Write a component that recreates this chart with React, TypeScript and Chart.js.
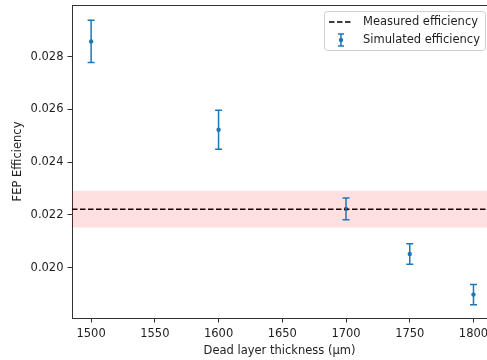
import React, { useEffect, useRef } from 'react';
import { Chart, registerables } from 'chart.js';
Chart.register(...registerables);

// ---- data ----
const thickness = [1500, 1600, 1700, 1750, 1800];
const simulated = [0.02858, 0.02523, 0.02223, 0.02052, 0.01898];
const simulatedErr = [0.0008, 0.00074, 0.00041, 0.00039, 0.00038];
const measured = 0.02222;
const measuredErr = 0.0007;
const xTicks = [1500, 1550, 1600, 1650, 1700, 1750, 1800];
const yTicks = [0.02, 0.022, 0.024, 0.026, 0.028];
const X_MIN = 1485;
const X_MAX = 1810.6;
const X_SPAN_END = 1815;
const Y_MIN = 0.018093;
const Y_MAX = 0.02996;

const BLUE = '#1f77b4';
const AXIS = '#333333';
const TEXT = '#1e1e1e';
const FONT_SIZE = 11.5;

const errorBarPlugin = {
  id: 'errorBars',
  afterDatasetsDraw(chart: any) {
    const ds = chart.data.datasets.findIndex((d: any) => d.label === 'Simulated efficiency');
    if (ds < 0) return;
    const xs = chart.scales.x;
    const ys = chart.scales.y;
    const ctx = chart.ctx;
    ctx.save();
    ctx.strokeStyle = BLUE;
    ctx.lineWidth = 1.5;
    thickness.forEach((t, i) => {
      const px = xs.getPixelForValue(t);
      const top = ys.getPixelForValue(simulated[i] + simulatedErr[i]);
      const bot = ys.getPixelForValue(simulated[i] - simulatedErr[i]);
      ctx.beginPath();
      ctx.moveTo(px, top);
      ctx.lineTo(px, bot);
      ctx.moveTo(px - 3.5, top);
      ctx.lineTo(px + 3.5, top);
      ctx.moveTo(px - 3.5, bot);
      ctx.lineTo(px + 3.5, bot);
      ctx.stroke();
    });
    ctx.restore();
  },
  afterDraw(chart: any) {
    const ctx = chart.ctx;
    const a = chart.chartArea;
    ctx.save();
    // top spine
    ctx.strokeStyle = AXIS;
    ctx.lineWidth = 1;
    ctx.beginPath();
    ctx.moveTo(a.left, a.top + 0.5);
    ctx.lineTo(a.right, a.top + 0.5);
    ctx.stroke();

    // legend
    const bx = 324.5, by = 11.5, bw = 161, bh = 39, r = 3;
    ctx.fillStyle = 'rgba(255,255,255,0.85)';
    ctx.strokeStyle = '#d0d0d0';
    ctx.lineWidth = 1;
    ctx.beginPath();
    ctx.moveTo(bx + r, by);
    ctx.lineTo(bx + bw - r, by);
    ctx.arcTo(bx + bw, by, bx + bw, by + r, r);
    ctx.lineTo(bx + bw, by + bh - r);
    ctx.arcTo(bx + bw, by + bh, bx + bw - r, by + bh, r);
    ctx.lineTo(bx + r, by + bh);
    ctx.arcTo(bx, by + bh, bx, by + bh - r, r);
    ctx.lineTo(bx, by + r);
    ctx.arcTo(bx, by, bx + r, by, r);
    ctx.closePath();
    ctx.fill();
    ctx.stroke();

    const labels = chart.data.datasets
      .filter((d: any) => d.label === 'Measured efficiency' || d.label === 'Simulated efficiency')
      .map((d: any) => d.label);
    ctx.font = FONT_SIZE + 'px "DejaVu Sans"';
    ctx.fillStyle = TEXT;
    ctx.textBaseline = 'middle';
    ctx.textAlign = 'left';
    const y1 = 22, y2 = 40;
    ctx.strokeStyle = '#000';
    ctx.lineWidth = 1.5;
    ctx.setLineDash([5.5, 2.5]);
    ctx.beginPath();
    ctx.moveTo(329, y1);
    ctx.lineTo(353, y1);
    ctx.stroke();
    ctx.setLineDash([]);
    ctx.fillText(labels[0], 363, y1 + 0.5);
    ctx.strokeStyle = BLUE;
    ctx.fillStyle = BLUE;
    ctx.beginPath();
    ctx.moveTo(341, y2 - 6);
    ctx.lineTo(341, y2 + 6);
    ctx.moveTo(338, y2 - 6);
    ctx.lineTo(344, y2 - 6);
    ctx.moveTo(338, y2 + 6);
    ctx.lineTo(344, y2 + 6);
    ctx.stroke();
    ctx.beginPath();
    ctx.arc(341, y2, 2.2, 0, Math.PI * 2);
    ctx.fill();
    ctx.fillStyle = TEXT;
    ctx.fillText(labels[1], 363, y2 + 0.5);
    ctx.restore();
  },
};

export default function App() {
  const ref = useRef<HTMLCanvasElement | null>(null);
  useEffect(() => {
    if (!ref.current) return;
    Chart.defaults.font.family = '"DejaVu Sans", sans-serif';
    Chart.defaults.font.size = FONT_SIZE;
    Chart.defaults.color = TEXT;
    const chart = new Chart(ref.current, {
      type: 'scatter',
      data: {
        datasets: [
          {
            label: 'band-low',
            type: 'line',
            data: [
              { x: X_MIN, y: measured - measuredErr },
              { x: X_SPAN_END, y: measured - measuredErr },
            ],
            borderWidth: 0,
            borderColor: 'rgba(0,0,0,0)',
            pointRadius: 0,
            fill: false,
          },
          {
            label: 'band-high',
            type: 'line',
            data: [
              { x: X_MIN, y: measured + measuredErr },
              { x: X_SPAN_END, y: measured + measuredErr },
            ],
            borderWidth: 0,
            borderColor: 'rgba(0,0,0,0)',
            backgroundColor: 'rgba(255,0,0,0.12)',
            pointRadius: 0,
            fill: '-1',
          },
          {
            label: 'Measured efficiency',
            type: 'line',
            data: [
              { x: X_MIN, y: measured },
              { x: X_SPAN_END, y: measured },
            ],
            borderColor: '#000',
            borderWidth: 1.5,
            borderDash: [5.5, 2.5],
            pointRadius: 0,
            fill: false,
          },
          {
            label: 'Simulated efficiency',
            data: thickness.map((t, i) => ({ x: t, y: simulated[i] })),
            backgroundColor: BLUE,
            borderColor: BLUE,
            pointRadius: 2.2,
            borderWidth: 0,
            showLine: false,
          },
        ],
      },
      options: {
        animation: false,
        responsive: false,
        events: [],
        layout: { autoPadding: false, padding: { top: 5, right: 0, left: 0, bottom: 0 } },
        plugins: { legend: { display: false }, tooltip: { enabled: false } },
        scales: {
          x: {
            type: 'linear',
            min: X_MIN,
            max: X_MAX,
            afterBuildTicks: (s: any) => {
              s.ticks = xTicks.map((v) => ({ value: v }));
            },
            afterFit: (s: any) => {
              s.height = 42;
              s.paddingLeft = 0;
              s.paddingRight = 0;
            },
            ticks: { padding: 4.5, color: TEXT, maxRotation: 0, autoSkip: false, callback: (v: any) => String(v) },
            grid: { drawOnChartArea: false, drawTicks: true, tickLength: 4.5, color: AXIS },
            border: { display: true, color: AXIS, width: 1 },
            title: { display: true, text: 'Dead layer thickness (μm)', color: TEXT, padding: { top: 0, bottom: 2 } },
          },
          y: {
            type: 'linear',
            min: Y_MIN,
            max: Y_MAX,
            afterBuildTicks: (s: any) => {
              s.ticks = yTicks.map((v) => ({ value: v }));
            },
            afterFit: (s: any) => {
              s.width = 72;
              s.paddingTop = 0;
              s.paddingBottom = 0;
            },
            ticks: { padding: 4, color: TEXT, autoSkip: false, callback: (v: any) => Number(v).toFixed(3) },
            grid: { drawOnChartArea: false, drawTicks: true, tickLength: 4.5, color: AXIS },
            border: { display: true, color: AXIS, width: 1 },
            title: { display: true, text: 'FEP Efficiency', color: TEXT, padding: { top: 11, bottom: 0 } },
          },
        },
      },
      plugins: [errorBarPlugin],
    } as any);
    return () => chart.destroy();
  }, []);
  return (
    <div style={{ position: 'absolute', left: 0, top: 0, width: 487, height: 360, background: '#fff' }}>
      <canvas ref={ref} width={487} height={360} style={{ display: 'block' }} />
    </div>
  );
}
